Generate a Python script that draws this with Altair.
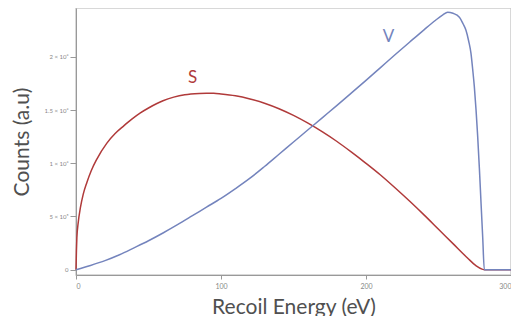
import altair as alt
import pandas as pd

# S curve (Recoil Energy eV, Counts)
s_x = [0, 0.3, 0.6, 1.5, 3, 5, 7.5, 10.5, 14.4, 21.3, 27, 32.8, 38.5, 44.4, 50, 55.8, 60, 67.4, 75, 85,
       90, 95, 100, 110, 120, 130, 140, 150, 160, 170, 180, 190, 200, 210, 220, 230, 240, 250, 260,
       270, 276, 280, 282, 300]
s_y = [0, 0.18e6, 0.30e6, 0.44e6, 0.58e6, 0.71e6, 0.82e6, 0.93e6, 1.04e6, 1.19e6, 1.28e6, 1.35e6,
       1.415e6, 1.474e6, 1.52e6, 1.562e6, 1.588e6, 1.622e6, 1.645e6, 1.657e6, 1.659e6, 1.658e6,
       1.652e6, 1.635e6, 1.605e6, 1.565e6, 1.513e6, 1.450e6, 1.377e6, 1.295e6, 1.205e6, 1.105e6,
       1.00e6, 0.89e6, 0.77e6, 0.645e6, 0.515e6, 0.38e6, 0.245e6, 0.11e6, 0.035e6, 0.005e6, 0, 0]

# V curve
v_x = [0, 10, 20, 30, 40, 50, 60, 70, 80, 90, 100, 110, 120, 130, 140, 150, 160, 170, 180, 190, 200,
       210, 220, 230, 240, 248, 253, 256.3, 260, 264.4, 267, 269, 270.8, 272.4, 273.6, 274.7, 275.9,
       277, 278.2, 279.3, 280.5, 281.6, 300]
v_y = [0, 0.04e6, 0.085e6, 0.14e6, 0.205e6, 0.272e6, 0.345e6, 0.423e6, 0.505e6, 0.588e6, 0.67e6,
       0.762e6, 0.86e6, 0.97e6, 1.085e6, 1.20e6, 1.315e6, 1.43e6, 1.545e6, 1.662e6, 1.78e6,
       1.90e6, 2.02e6, 2.138e6, 2.255e6, 2.345e6, 2.395e6, 2.42e6, 2.41e6, 2.374e6, 2.31e6,
       2.249e6, 2.15e6, 2.033e6, 1.88e6, 1.723e6, 1.50e6, 1.258e6, 0.95e6, 0.637e6, 0.30e6, 0, 0]

labels_txt = ["S", "V"]
labels_x = [80.5, 215.5]
labels_y = [1.80e6, 2.19e6]

y_ticks = [0, 5e5, 1e6, 1.5e6, 2e6]
x_ticks = [0, 100, 200, 300]

s_df = pd.DataFrame({"x": s_x, "y": s_y})
v_df = pd.DataFrame({"x": v_x, "y": v_y})
lab_df = pd.DataFrame({"t": labels_txt, "x": labels_x, "y": labels_y})

FONT = "Lato"
S_COL = "#b03a3a"
V_COL = "#7484bd"

xenc = alt.X("x:Q", scale=alt.Scale(domain=[0, 300], nice=False),
             axis=alt.Axis(title="Recoil Energy (eV)", values=x_ticks, titleFontSize=21,
                           titleFont=FONT, titleFontWeight="normal", titleColor="#505050",
                           labelFontSize=7, labelColor="#888", labelFont=FONT,
                           domainColor="#999", tickColor="#999", tickSize=4, grid=False,
                           titlePadding=7, labelPadding=3))
yenc = alt.Y("y:Q", scale=alt.Scale(domain=[-0.05e6, 2.46e6], nice=False, zero=False),
             axis=alt.Axis(title="Counts (a.u)", values=y_ticks, titleFontSize=21,
                           titleFont=FONT, titleFontWeight="normal", titleColor="#505050",
                           labelFontSize=6, labelColor="#888", labelFont=FONT,
                           labelExpr="datum.value == 0 ? '0' : datum.value == 500000 ? '5 × 10⁵' : datum.value == 1000000 ? '1 × 10⁶' : datum.value == 1500000 ? '1.5 × 10⁶' : '2 × 10⁶'",
                           domainColor="#999", tickColor="#999", tickSize=6, grid=False,
                           titlePadding=12, labelPadding=2))

s_line = alt.Chart(s_df).mark_line(color=S_COL, strokeWidth=1.5, interpolate="monotone").encode(x=xenc, y=yenc)
v_line = alt.Chart(v_df).mark_line(color=V_COL, strokeWidth=1.5, interpolate="monotone").encode(x="x:Q", y="y:Q")
text = alt.Chart(lab_df).mark_text(fontSize=17, font=FONT).encode(
    x="x:Q", y="y:Q", text="t:N",
    color=alt.Color("t:N", scale=alt.Scale(domain=["S", "V"], range=[S_COL, V_COL]), legend=None))

chart = (s_line + v_line + text).properties(
    width=435, height=267,
    autosize=alt.AutoSizeParams(type="none"),
    padding={"left": 68, "top": 0, "right": 0, "bottom": 41},
    background="white",
).configure_view(stroke="#cccccc", strokeWidth=1.5)

chart.save("out.html", embed_options={"renderer": "svg", "actions": False})
